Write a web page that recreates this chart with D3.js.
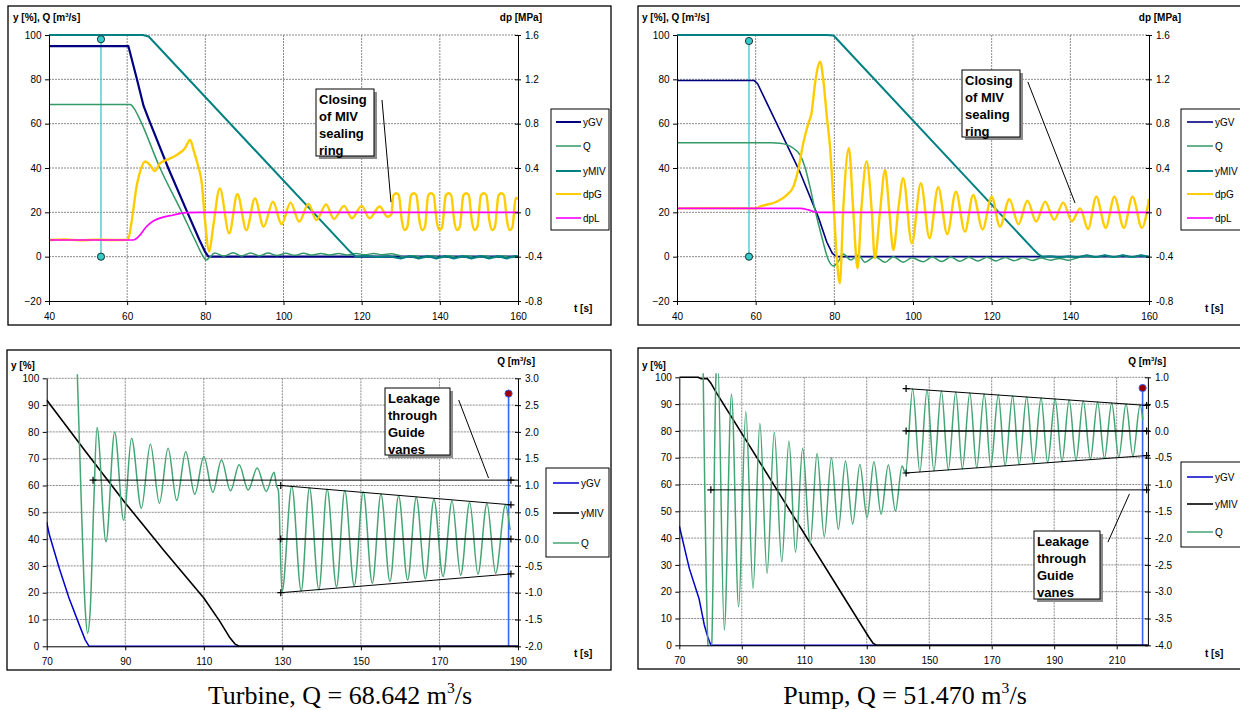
<!DOCTYPE html>
<html>
<head>
<meta charset="utf-8">
<title>MIV closing - turbine and pump</title>
<script src="https://cdn.jsdelivr.net/npm/d3@7"></script>
<style>
  body { margin: 0; background: #fff; }
  text { font-family: Arial, "Liberation Sans", sans-serif; }
</style>
</head>
<body>
<script>
// ---------- data ----------
// top charts: t [s], y/Q on left axis, dp [MPa] on right axis
var topTimeTicks = [40, 60, 80, 100, 120, 140, 160],
    topYTicks = [-20, 0, 20, 40, 60, 80, 100],
    topDpTicks = [-0.8, -0.4, 0, 0.4, 0.8, 1.2, 1.6],
    topNames = ["yGV", "Q", "yMIV", "dpG", "dpL"];

var turbYGV = [[40,95],[60.3,95],[62.5,80],[64.2,68],[65.4,62.5],[70.5,40],[75.4,20],[78.5,7.5],[80,2],[80.8,0],[160,0]];
var turbQ = [[40,68.6],[60.8,68.6],[61.8,66.8],[63.3,61.7],[68.4,40],[74,20],[77.5,7],[79.5,0],[80.2,-1.5],[81,-0.5],[82.4,1.6],
  [84.8,0.3],[87.1,1.8],[89.3,0.3],[91.6,1.7],[93.8,0.4],[96.1,1.6],[98.3,0.5],[100.6,1.5],[102.8,0.6],[105.1,1.5],[107.3,0.7],
  [109.6,1.4],[111.8,0.7],[114.1,1.4],[116.3,0.8],[118.6,1.4],[120.8,0.9],[123.1,1.4],[125.3,0.9],[127.6,1.3],[129.4,0.6],
  [131.2,-0.2],[133.4,0.4],[135.7,-0.4],[137.9,0.4],[140.2,-0.4],[142.4,0.4],[144.7,-0.4],[146.9,0.4],[149.2,-0.4],[151.4,0.4],
  [153.7,-0.4],[155.9,0.4],[158.2,-0.4],[160,0.2]];
var turbYMIV = [[40,100],[64,100],[65.5,99.3],[117,2.3],[118.5,0],[121,0.3],[124,-0.2],[127,0.2],[130,-0.8],[132.3,0.3],[134.6,-0.8],
  [136.8,0.3],[139.1,-0.8],[141.3,0.3],[143.6,-0.8],[145.8,0.3],[148.1,-0.8],[150.3,0.3],[152.6,-0.8],[154.8,0.3],[157.1,-0.8],
  [159.3,0.3],[160,0]];
var turbDpG = [[40,-0.25],[44,-0.245],[48,-0.252],[52,-0.246],[56,-0.25],[60.2,-0.248],[61.2,-0.07],[62.4,0.232],[63.3,0.366],
  [64.6,0.458],[65.8,0.428],[67.1,0.372],[68.4,0.442],[70.5,0.478],[72.7,0.518],[74.8,0.578],[76.1,0.652],[77.1,0.548],[78.2,0.412],
  [79.1,0.262],[79.9,-0.068],[81.0,-0.354],[82.0,-0.13],[83.7,0.216],[86.1,-0.19],[88.2,0.166],[90.5,-0.16],[92.7,0.126],[94.9,-0.13],
  [97.3,0.096],[99.5,-0.106],[101.8,0.088],[104,-0.084],[106.4,0.076],[108.4,-0.07],[110.9,0.072],[112.9,-0.06],[115.5,0.058],
  [117.5,-0.054],[120,0.058],[122,-0.054],[124.6,0.052],[126.6,-0.04],[127.6,-0.02],
  [128.1,0.15],[128.8,0.172],[129.5,0.155],[130.3,-0.08],[131.0,-0.16],[131.7,-0.13],
  [132.6,0.15],[133.3,0.172],[134.0,0.155],[134.8,-0.08],[135.5,-0.16],[136.2,-0.13],
  [137.0,0.15],[137.7,0.172],[138.4,0.155],[139.2,-0.08],[139.9,-0.16],[140.6,-0.13],
  [141.5,0.15],[142.2,0.172],[142.9,0.155],[143.7,-0.08],[144.4,-0.16],[145.1,-0.13],
  [146.0,0.15],[146.7,0.172],[147.4,0.155],[148.2,-0.08],[148.9,-0.16],[149.6,-0.13],
  [150.5,0.15],[151.2,0.172],[151.9,0.155],[152.7,-0.08],[153.4,-0.16],[154.1,-0.13],
  [155.0,0.15],[155.7,0.172],[156.4,0.155],[157.2,-0.08],[157.9,-0.16],[158.6,-0.13],
  [159.4,0.13],[160,0.12]];
var turbDpL = [[40,-0.25],[61.6,-0.25],[62.9,-0.22],[64.9,-0.13],[66.8,-0.076],[71.8,-0.024],[75.2,-0.003],[78.4,0],[160,0]];

var pumpYGV = [[40,79.5],[59.6,79.5],[60.5,78],[71.3,38],[76,17.5],[78.1,6.5],[79.5,1.5],[80.6,0],[160,0]];
var pumpQ = [[40,51.4],[64,51.4],[66.2,51.2],[69.6,48.9],[71.3,45.9],[72.5,40.6],[73.8,31.6],[75.1,21],[76.8,9],[78.5,-1.5],
  [79.8,-4.2],[81,-2.2],[82.3,1.2],[84.2,-1.5],[86.1,0.8],[87.8,-2.5],[90.3,0],[92.9,-2.5],[95,0],[97.5,-2.5],[99.7,-0.5],
  [102.6,-2.3],[104.9,-0.2],[107.3,-2.2],[109.6,-0.2],[111.9,-2.1],[114.2,-0.3],[116.5,-2],[118.8,-0.3],[121.1,-1.9],[123.4,-0.4],
  [125.7,-1.8],[128,-0.5],[130.3,-1.7],[132.6,-0.6],[134.9,-1.6],[137.2,-0.8],[139.5,-1.6],[141.8,-0.5],[144.1,0.2],[146.4,-0.3],
  [148.7,0.5],[151,-0.3],[153.3,0.5],[155.6,-0.3],[157.9,0.5],[160,-0.2]];
var pumpYMIV = [[40,100],[78,100],[79.8,99.8],[130.5,3.5],[131.8,1.2],[132.8,0],[135,0.2],[137.3,-0.3],[139.6,0.2],[141.9,-0.3],
  [144.2,0.6],[146.5,-0.2],[148.8,0.7],[151.1,-0.2],[153.4,0.7],[155.7,-0.2],[158,0.6],[160,0]];
var pumpDpG = [[40,0.036],[50,0.038],[60.1,0.036],[61.1,0.052],[65.3,0.096],[67.9,0.156],[69.6,0.232],[70.8,0.382],[72.1,0.624],
  [73.4,0.804],[74.2,0.894],[75.1,1.164],[76.4,1.36],[77.2,1.194],[78.1,0.862],[78.9,0.592],[79.8,0.082],[80.6,-0.4],[81.4,-0.64],
  [82.3,0.05],[83.7,0.578],[84.8,0.02],[85.9,-0.506],[86.9,0.042],[88.2,0.458],[89.5,0.02],[90.3,-0.414],[91.6,0],[92.9,0.382],
  [94,0],[95,-0.34],[96.3,0.04],[97.5,0.308],[99.7,-0.28],[102,0.262],[104.2,-0.234],[106.4,0.226],[108.7,-0.196],[110.9,0.186],
  [113.2,-0.174],[115.3,0.156],[117.7,-0.152],[120,0.142],[122.1,-0.13],[124.5,0.118],[126.8,-0.106],[129.1,0.106],[131.3,-0.084],
  [133.6,0.096],[135.9,-0.068],[138.2,0.088],[140.4,-0.08],[142.5,0.036],[144.5,-0.15],[146.6,0.14],[149,-0.14],[151.2,0.14],
  [153.6,-0.14],[155.8,0.14],[158.2,-0.14],[160,0.12]];
var pumpDpL = [[40,0.036],[71.3,0.036],[73.4,0.022],[74.8,0.006],[76.4,0],[160,0]];

// bottom charts: y [%] on left axis, Q [m3/s] on right axis
var botYTicks = [0, 10, 20, 30, 40, 50, 60, 70, 80, 90, 100],
    turbTimeTicks = [70, 90, 110, 130, 150, 170, 190],
    pumpTimeTicks = [70, 90, 110, 130, 150, 170, 190, 210],
    turbQTicks = [-2, -1.5, -1, -0.5, 0, 0.5, 1, 1.5, 2, 2.5, 3],
    pumpQTicks = [-4, -3.5, -3, -2.5, -2, -1.5, -1, -0.5, 0, 0.5, 1],
    botNames = ["yGV", "yMIV", "Q"];

var turbBYGV = [[70,46.3],[70.7,41.5],[73.2,29.1],[75.7,17.9],[78.3,8],[79.8,2.4],[80.8,0],[190,0]];
var turbBYMIV = [[70,91.9],[80,72.5],[90,53.5],[100,35.5],[110,18],[114,9.5],[116.5,3.5],[118,0.8],[119,0],[190,0]];
var turbBQ = [[77.7,3.3],[78.8,0.7],[79.8,-1.3],[80.4,-1.755],[81.1,-1.3],[82,0.7],[82.8,2.08],[85.1,-0.05],[87.3,2.0],[89.6,0.35],
  [91.6,1.88],[94.1,0.575],[96.4,1.77],[98.7,0.67],[100.9,1.695],[103.1,0.72],[105.4,1.63],[107.7,0.835],[110,1.54],[112.3,0.875],
  [114.5,1.475],[116.8,0.9],[119,1.385],[121.3,0.915],[123.6,1.325],[125.9,0.89],[127.9,1.245],[128.5,1.0],[129.0,0.9],
  [129.9,-0.99],[132.4,0.985],[134.8,-0.97],[136.9,0.96],[139.3,-0.945],[141.4,0.93],[143.8,-0.89],[145.9,0.905],[148.3,-0.87],
  [150.6,0.885],[152.9,-0.825],[155.1,0.84],[157.4,-0.795],[159.6,0.81],[161.9,-0.765],[164.1,0.78],[166.4,-0.74],[168.6,0.745],
  [170.9,-0.70],[173.2,0.71],[175.4,-0.675],[177.7,0.685],[179.8,-0.655],[182.1,0.665],[184.3,-0.64],[186.8,0.635],[188.0,0.17]];
var turbEnvUp = [[129.6,1.0],[188.2,0.64]],
    turbEnvMid = [[129.6,0],[188.2,0]],
    turbEnvLow = [[129.6,-1.0],[188.2,-0.65]],
    turbLeak = [[81.8,1.1],[188.2,1.1],[190,1.1]];

var pumpBYGV = [[70,44.5],[73.2,28.7],[76.3,17.5],[78,7.6],[79.1,3.2],[80.1,0],[220,0]];
var pumpBYMIV = [[70,100],[76,100],[77,99.5],[79,99.5],[80,98],[82,94],[130.6,3.2],[132.1,0.7],[133.1,0],[220,0]];
var pumpBQ = [[77.6,1.3],[79.3,-4.1],[79.8,-4.2],[80.3,-4.1],[81.8,1.1],[82.3,1.3],[84.4,-3.715],[86.7,0.685],[89.0,-3.28],
  [91.3,0.36],[93.6,-2.935],[95.8,0.14],[98.1,-2.655],[100.4,-0.03],[102.8,-2.44],[105.1,-0.19],[107.2,-2.265],[109.5,-0.325],
  [111.9,-2.11],[114.1,-0.42],[116.4,-1.975],[118.7,-0.5],[120.9,-1.835],[123.2,-0.56],[125.5,-1.735],[127.8,-0.625],[130.1,-1.62],
  [132.3,-0.575],[134.6,-1.555],[136.9,-0.635],[139.2,-1.495],[141.3,-0.655],[142.4,-0.79],[144.7,0.78],[147,-0.765],[149.3,0.76],
  [151.5,-0.745],[153.9,0.745],[156.1,-0.725],[158.5,0.725],[160.6,-0.705],[163,0.705],[165.2,-0.685],[167.6,0.69],[169.7,-0.67],
  [172.1,0.67],[174.3,-0.65],[176.7,0.65],[178.8,-0.63],[181.2,0.635],[183.4,-0.61],[185.8,0.615],[187.9,-0.59],[190.3,0.595],
  [192.5,-0.57],[194.8,0.58],[197,-0.55],[199.3,0.56],[201.6,-0.53],[203.9,0.54],[206.1,-0.51],[208.4,0.52],[210.7,-0.49],
  [213,0.505],[215.2,-0.47],[217.5,0.485],[218.4,0.2]];
var pumpEnvUp = [[142.6,0.79],[219.6,0.475]],
    pumpEnvMid = [[142.6,0],[219.6,0]],
    pumpEnvLow = [[142.6,-0.785],[219.6,-0.46]],
    pumpLeak = [[80.1,-1.1],[219.6,-1.1],[220,-1.1]];

// cursor lines: time, from, to (left axis units)
var turbTopCursor = [53.3, 0, 98.1], pumpTopCursor = [58.3, 0, 97.3],
    turbBotCursor = [187.6, 0, 94.3], pumpBotCursor = [218.3, 0, 96];

var captions = [["Turbine, Q = 68.642 m", "3", "/s"], ["Pump, Q = 51.470 m", "3", "/s"]];

// ---------- drawing ----------
var svg = d3.select("body").append("svg").attr("width", 1240).attr("height", 710);

var cNavy = "#000080", cGreen = "#339966", cTeal = "#008080", cGold = "#ffcc00", cPink = "#ff00ff",
    cBlue = "#0000cc", cQ = "#44a574", cCyan = "#33cccc", cCursor = "#3366ff";

function fmtDp(d) { return d === 0 ? "0" : d.toFixed(1); }
function fmt1(d) { return d.toFixed(1); }

function richText(g, x, y, parts, size, weight, anchor, family) {
    var t = g.append("text").attr("x", x).attr("y", y).attr("font-size", size)
        .attr("font-weight", weight).attr("text-anchor", anchor).attr("fill", "#000");
    if (family) t.style("font-family", family);
    t.append("tspan").text(parts[0]);
    if (parts.length > 1) {
        t.append("tspan").text(parts[1]).attr("font-size", size * 0.6).attr("dy", -size * 0.42);
        t.append("tspan").text(parts[2]).attr("dy", size * 0.42);
    }
    return t;
}

function drawPanel(p) {
    var g = svg.append("g");
    g.append("rect").attr("x", p.frame[0]).attr("y", p.frame[1])
        .attr("width", p.frame[2] - p.frame[0]).attr("height", p.frame[3] - p.frame[1])
        .attr("fill", "#fff").attr("stroke", "#000").attr("stroke-width", 1.3);

    var x = d3.scaleLinear().domain(p.xDomain).range(p.xRange),
        yL = d3.scaleLinear().domain(p.yLDomain).range(p.yRange),
        yR = d3.scaleLinear().domain(p.yRDomain).range(p.yRange);
    var x0 = p.xRange[0], x1 = p.xRange[1], yb = p.yRange[0], yt = p.yRange[1];

    g.append("clipPath").attr("id", "clip" + p.id).append("rect")
        .attr("x", x0).attr("y", yt - 4).attr("width", x1 - x0).attr("height", yb - yt + 5);

    // grid
    var grid = g.append("g").attr("stroke", "#8a8a8a").attr("stroke-width", 1).attr("stroke-dasharray", "2,1");
    grid.selectAll("line.h").data(p.yLTicks.filter(function(d) { return d !== p.yLDomain[0]; }))
        .join("line").attr("class", "h")
        .attr("x1", x0).attr("x2", x1).attr("y1", function(d) { return yL(d); }).attr("y2", function(d) { return yL(d); });
    grid.selectAll("line.v").data(p.xTicks.filter(function(d) { return d > p.xDomain[0] && d < p.xDomain[1]; }))
        .join("line").attr("class", "v")
        .attr("y1", yt).attr("y2", yb).attr("x1", function(d) { return x(d); }).attr("x2", function(d) { return x(d); });

    var plot = g.append("g").attr("clip-path", "url(#clip" + p.id + ")");

    // cursor line
    var cx = x(p.cursor[0]);
    plot.append("line").attr("x1", cx).attr("x2", cx).attr("y1", yL(p.cursor[1])).attr("y2", yL(p.cursor[2]))
        .attr("stroke", p.cursorColor).attr("stroke-width", p.cursorWidth);

    // series
    p.series.forEach(function(s) {
        var ys = s.axis === "R" ? yR : yL;
        plot.append("path").datum(s.data)
            .attr("fill", "none").attr("stroke", s.color).attr("stroke-width", s.width)
            .attr("stroke-linejoin", "round")
            .attr("d", d3.line().x(function(d) { return x(d[0]); }).y(function(d) { return ys(d[1]); })
                .curve(s.smooth ? d3.curveMonotoneX : d3.curveLinear));
    });

    // envelope + leakage lines (bottom charts)
    if (p.guides) {
        p.guides.forEach(function(gd) {
            g.append("path").datum(gd.data).attr("fill", "none").attr("stroke", "#000")
                .attr("stroke-width", gd.width)
                .attr("d", d3.line().x(function(d) { return x(d[0]); }).y(function(d) { return yR(d[1]); }));
            g.selectAll(null).data(gd.marks).join("path")
                .attr("transform", function(d) { return "translate(" + x(d[0]) + "," + yR(d[1]) + ")"; })
                .attr("d", "M-3.5,0H3.5M0,-3.5V3.5").attr("stroke", "#000").attr("stroke-width", 1.2);
        });
    }

    // cursor circles
    g.selectAll(null).data(p.cursorDots).join("circle")
        .attr("cx", cx).attr("cy", function(d) { return yL(d); }).attr("r", 3.6)
        .attr("fill", p.dotFill).attr("stroke", p.dotStroke).attr("stroke-width", 1);

    // axes
    var axL = g.append("g").attr("transform", "translate(" + x0 + ",0)")
        .call(d3.axisLeft(yL).tickValues(p.yLTicks).tickSize(4).tickSizeOuter(0).tickPadding(3.5));
    var axR = g.append("g").attr("transform", "translate(" + x1 + ",0)")
        .call(d3.axisRight(yR).tickValues(p.yRTicks).tickSize(3).tickSizeOuter(0).tickPadding(4).tickFormat(p.yRFormat));
    axR.selectAll(".tick").append("line").attr("x2", -3).attr("stroke", "#000");
    var axB = g.append("g").attr("transform", "translate(0," + yb + ")")
        .call(d3.axisBottom(x).tickValues(p.xTicks).tickSize(4).tickSizeOuter(0).tickPadding(8));
    [axL, axR, axB].forEach(function(a) {
        a.attr("font-size", 10);
        a.selectAll("path.domain").attr("stroke", "#000").attr("stroke-width", 1);
        a.selectAll("line").attr("stroke", "#000");
        a.selectAll("text").attr("fill", "#000");
    });

    // axis titles
    richText(g, p.titleL[0], p.titleL[1], p.titleL[2], 10, "bold", "start");
    richText(g, p.titleR[0], p.titleR[1], p.titleR[2], 10, "bold", "end");
    richText(g, p.titleT[0], p.titleT[1], ["t [s]"], 10, "bold", "start");

    // annotation leader + box
    var ld = p.leader;
    g.append("line").attr("x1", x(ld[0][0])).attr("y1", yL(ld[0][1])).attr("x2", x(ld[1][0])).attr("y2", yL(ld[1][1]))
        .attr("stroke", "#000").attr("stroke-width", 1);
    var b = p.box;
    g.append("rect").attr("x", b.x + 3).attr("y", b.y + 3).attr("width", b.w).attr("height", b.h).attr("fill", "#8c8c8c");
    g.append("rect").attr("x", b.x).attr("y", b.y).attr("width", b.w).attr("height", b.h)
        .attr("fill", "#fff").attr("stroke", "#000").attr("stroke-width", 1);
    b.lines.forEach(function(s, i) {
        g.append("text").attr("x", b.x + 3).attr("y", b.y + 14.5 + i * 17).text(s)
            .attr("font-size", 13).attr("font-weight", "bold").attr("fill", "#000");
    });

    // legend
    var lg = p.legend;
    g.append("rect").attr("x", lg.x).attr("y", lg.y).attr("width", lg.w).attr("height", lg.h)
        .attr("fill", "#fff").attr("stroke", "#000").attr("stroke-width", 1);
    p.legendItems.forEach(function(s, i) {
        var yy = lg.rows[i];
        g.append("line").attr("x1", lg.lx[0]).attr("x2", lg.lx[1]).attr("y1", yy).attr("y2", yy)
            .attr("stroke", s.color).attr("stroke-width", Math.min(s.width, 2));
        g.append("text").attr("x", lg.tx).attr("y", yy + 3.5).text(s.name).attr("font-size", 10).attr("fill", "#000");
    });
}

var titleYQ = ["y [%], Q [m", "3", "/s]"], titleDp = ["dp [MPa]"], titleY = ["y [%]"], titleQ = ["Q [m", "3", "/s]"];
var closingText = ["Closing", "of MIV", "sealing", "ring"], leakText = ["Leakage", "through", "Guide", "vanes"];

function topSeries(yGV, q, yMIV, dpG, dpL, gvWidth) {
    return [
        { name: topNames[0], data: yGV, axis: "L", color: cNavy, width: gvWidth, smooth: false },
        { name: topNames[1], data: q, axis: "L", color: cGreen, width: 1.5, smooth: true },
        { name: topNames[2], data: yMIV, axis: "L", color: cTeal, width: 2, smooth: false },
        { name: topNames[3], data: dpG, axis: "R", color: cGold, width: 2.4, smooth: true },
        { name: topNames[4], data: dpL, axis: "R", color: cPink, width: 1.6, smooth: true }
    ];
}
function botSeries(yGV, yMIV, q) {
    return [
        { name: botNames[0], data: yGV, axis: "L", color: cBlue, width: 1.5, smooth: false },
        { name: botNames[1], data: yMIV, axis: "L", color: "#000", width: 1.6, smooth: false },
        { name: botNames[2], data: q, axis: "R", color: cQ, width: 1.5, smooth: true }
    ];
}
function guides(up, mid, low, leak) {
    return [
        { data: up, width: 1, marks: up },
        { data: mid, width: 1.5, marks: mid },
        { data: low, width: 1, marks: low },
        { data: leak, width: 1, marks: [leak[0], leak[1]] }
    ];
}

var s1 = topSeries(turbYGV, turbQ, turbYMIV, turbDpG, turbDpL, 2.2),
    s2 = topSeries(pumpYGV, pumpQ, pumpYMIV, pumpDpG, pumpDpL, 1.6),
    s3 = botSeries(turbBYGV, turbBYMIV, turbBQ),
    s4 = botSeries(pumpBYGV, pumpBYMIV, pumpBQ);

drawPanel({
    id: 1, frame: [8, 6, 611, 325],
    xDomain: [40, 160], xRange: [49, 518], yLDomain: [-20, 100], yRDomain: [-0.8, 1.6], yRange: [301, 35],
    xTicks: topTimeTicks, yLTicks: topYTicks, yRTicks: topDpTicks, yRFormat: fmtDp,
    series: s1, legendItems: s1,
    cursor: turbTopCursor, cursorColor: cCyan, cursorWidth: 1.3, cursorDots: [turbTopCursor[1], turbTopCursor[2]],
    dotFill: cCyan, dotStroke: "#1a3333",
    titleL: [13, 21, titleYQ], titleR: [542, 21, titleDp], titleT: [574, 312],
    leader: [[125.2, 70.7], [127.5, 24.6]],
    box: { x: 316, y: 89, w: 58, h: 67, lines: closingText },
    legend: { x: 551, y: 109, w: 58, h: 121, rows: [122, 146, 171, 194, 218], lx: [556, 581], tx: 583 }
});
drawPanel({
    id: 2, frame: [638, 6, 1246, 325],
    xDomain: [40, 160], xRange: [677, 1149], yLDomain: [-20, 100], yRDomain: [-0.8, 1.6], yRange: [301, 35],
    xTicks: topTimeTicks, yLTicks: topYTicks, yRTicks: topDpTicks, yRFormat: fmtDp,
    series: s2, legendItems: s2,
    cursor: pumpTopCursor, cursorColor: cCyan, cursorWidth: 1.3, cursorDots: [pumpTopCursor[1], pumpTopCursor[2]],
    dotFill: cCyan, dotStroke: "#1a3333",
    titleL: [642, 21, titleYQ], titleR: [1181, 21, titleDp], titleT: [1205, 312],
    leader: [[129.2, 78.8], [141.2, 24.2]],
    box: { x: 962, y: 70, w: 58, h: 67, lines: closingText },
    legend: { x: 1181, y: 109, w: 66, h: 121, rows: [122, 146, 171, 194, 218], lx: [1187, 1213], tx: 1215 }
});
drawPanel({
    id: 3, frame: [7, 350, 611, 670],
    xDomain: [70, 190], xRange: [46.7, 518], yLDomain: [0, 100], yRDomain: [-2, 3], yRange: [646.3, 378.3],
    xTicks: turbTimeTicks, yLTicks: botYTicks, yRTicks: turbQTicks, yRFormat: fmt1,
    series: s3, legendItems: s3,
    guides: guides(turbEnvUp, turbEnvMid, turbEnvLow, turbLeak),
    cursor: turbBotCursor, cursorColor: cCursor, cursorWidth: 1.6, cursorDots: [turbBotCursor[2]],
    dotFill: "#990000", dotStroke: cCursor,
    titleL: [11, 369, titleY], titleR: [535, 365, titleQ], titleT: [574, 657],
    leader: [[174.9, 91.9], [182.5, 62.8]],
    box: { x: 385, y: 388, w: 65, h: 67, lines: leakText },
    legend: { x: 546, y: 468, w: 63, h: 89, rows: [483, 513, 543], lx: [553, 579], tx: 581 }
});
drawPanel({
    id: 4, frame: [638, 348, 1246, 669],
    xDomain: [70, 220], xRange: [679.3, 1147.9], yLDomain: [0, 100], yRDomain: [-4, 1], yRange: [645.3, 377.3],
    xTicks: pumpTimeTicks, yLTicks: botYTicks, yRTicks: pumpQTicks, yRFormat: fmt1,
    series: s4, legendItems: s4,
    guides: guides(pumpEnvUp, pumpEnvMid, pumpEnvLow, pumpLeak),
    cursor: pumpBotCursor, cursorColor: cCursor, cursorWidth: 1.6, cursorDots: [pumpBotCursor[2]],
    dotFill: "#990000", dotStroke: cCursor,
    titleL: [642, 369, titleY], titleR: [1166, 365, titleQ], titleT: [1205, 657],
    leader: [[207.2, 38.5], [214.1, 56.5]],
    box: { x: 1034, y: 531, w: 66, h: 68, lines: leakText },
    legend: { x: 1181, y: 462, w: 66, h: 85, rows: [477, 504, 532], lx: [1187, 1213], tx: 1215 }
});

// captions
var serif = "'Times New Roman', 'Liberation Serif', serif";
richText(svg, 340, 704, captions[0], 26, "normal", "middle", serif);
richText(svg, 905, 704, captions[1], 26, "normal", "middle", serif);
</script>
</body>
</html>
